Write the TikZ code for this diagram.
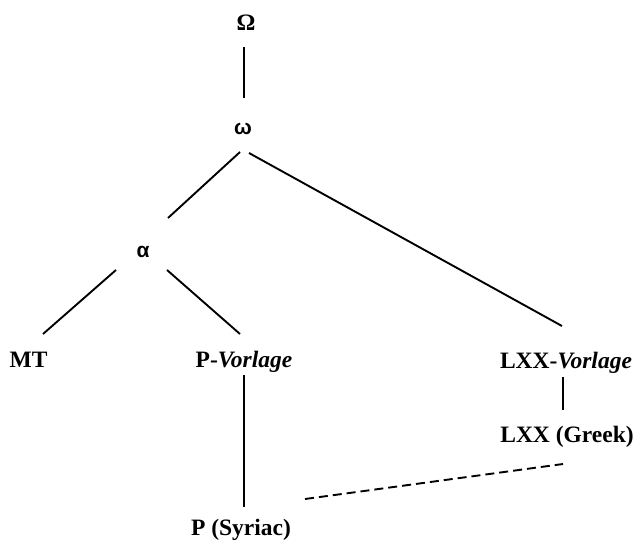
\documentclass[tikz,border=0pt]{standalone}
\usepackage{fontspec}
\setmainfont{Liberation Serif}
\newfontfamily\grsans{Liberation Sans}
\begin{document}
\begin{tikzpicture}[x=1pt,y=-1pt,
  lbl/.style={anchor=base,inner sep=0pt,font=\fontsize{23.5}{28}\selectfont\bfseries},
  grk/.style={anchor=base,inner sep=0pt,font=\fontsize{21}{25}\selectfont\grsans\bfseries},
  edge/.style={line width=1.9pt},
  dedge/.style={line width=1.9pt,dash pattern=on 9pt off 5pt}]
\useasboundingbox (0,0) rectangle (637,544);
\node[lbl] (Om) at (246,30) {Ω};
\node[grk] (om) at (243,134) {ω};
\node[grk] (al) at (143,257) {α};
\node[lbl] (MT) at (28.5,367) {MT};
\node[lbl] (PV) at (244,367) {P-\textit{Vorlage}};
\node[lbl] (LV) at (566,368) {LXX-\textit{Vorlage}};
\node[lbl] (LG) at (567,442) {LXX (Greek)};
\node[lbl] (PS) at (241,535) {P (Syriac)};
\draw[edge] ([shift={(-2,17)}]Om.base) -- ([shift={(1,-36)}]om.base);
\draw[edge] ([shift={(-3,18)}]om.base) -- ([shift={(25,-39)}]al.base);
\draw[edge] ([shift={(6,19)}]om.base) -- ([shift={(-4,-42)}]LV.base);
\draw[edge] ([shift={(-27,13)}]al.base) -- ([shift={(14.5,-33)}]MT.base);
\draw[edge] ([shift={(24,13)}]al.base) -- ([shift={(-4,-33)}]PV.base);
\draw[edge] ([shift={(-3,9)}]LV.base) -- ([shift={(-4,-32)}]LG.base);
\draw[edge] ([shift={(0,8)}]PV.base) -- ([shift={(3,-28)}]PS.base);
\draw[dedge] ([shift={(64,-36)}]PS.base) -- ([shift={(-4,22)}]LG.base);
\end{tikzpicture}
\end{document}
